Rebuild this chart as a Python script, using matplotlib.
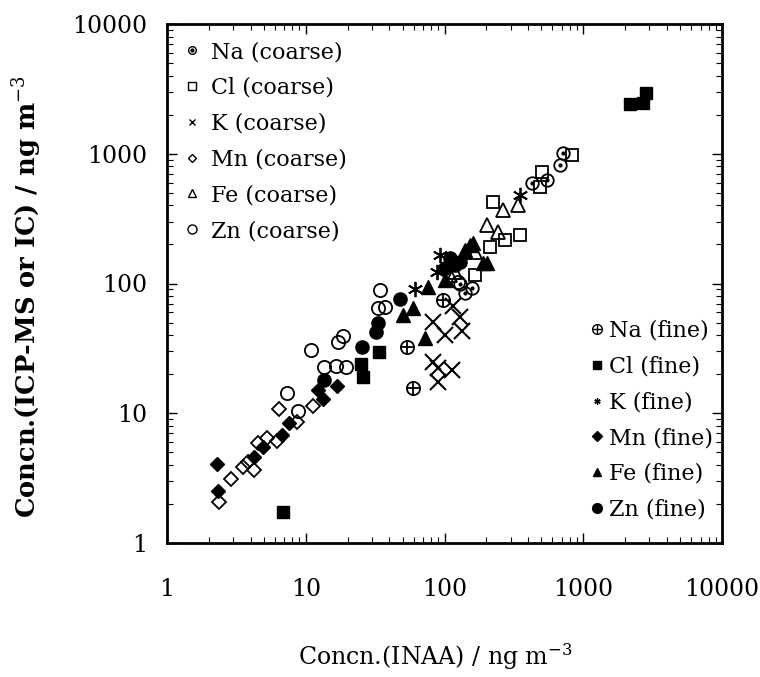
import numpy as np
import matplotlib
matplotlib.use('Agg')
import matplotlib.pyplot as plt
from matplotlib.lines import Line2D

plt.rcParams['font.family'] = 'DejaVu Serif'
plt.rcParams['mathtext.fontset'] = 'dejavuserif'

# ---- data (INAA vs ICP-MS/IC), ng m-3 ----
na_c_x = [718, 680, 425, 545, 141, 157, 130]
na_c_y = [1008, 819, 592, 628, 84, 92, 100]
cl_c_x = [225, 350, 273, 213, 502, 488, 826, 166]
cl_c_y = [427, 236, 216, 192, 727, 557, 977, 116]
k_c_x = [116, 83, 101, 133, 129, 83, 90, 113, 90]
k_c_y = [67.1, 50.8, 40.1, 43.3, 55.5, 25.0, 22.2, 21.6, 17.5]
mn_c_x = [2.38, 2.88, 3.51, 3.85, 4.24, 4.55, 5.28, 6.18, 6.38, 8.69, 11.2]
mn_c_y = [2.06, 3.11, 3.87, 4.19, 3.65, 5.87, 6.41, 6.11, 10.7, 8.51, 11.4]
fe_c_x = [110, 141, 166, 201, 244, 265, 340, 119]
fe_c_y = [116, 176, 176, 282, 251, 368, 403, 123]
zn_c_x = [7.29, 8.75, 10.9, 13.6, 16.4, 19.4, 17.0, 18.7, 33.3, 37.3, 34.3, 126]
zn_c_y = [14.4, 10.4, 30.7, 22.9, 23.1, 22.9, 35.6, 39.4, 64.4, 65.6, 89.1, 103]

na_f_x = [53.9, 59.0, 97.0]
na_f_y = [32.6, 15.6, 74.6]
cl_f_x = [6.82, 25.0, 26.0, 33.7, 2173, 2710, 2833]
cl_f_y = [1.73, 23.9, 18.9, 29.8, 2418, 2449, 2956]
k_f_x = [61.3, 87.9, 92.8, 350]
k_f_y = [90.2, 123, 166, 481]
mn_f_x = [2.28, 2.34, 4.24, 4.9, 6.71, 7.62, 13.4, 16.7, 12.3]
mn_f_y = [4.06, 2.52, 4.58, 5.53, 6.8, 8.46, 12.8, 16.2, 15.1]
fe_f_x = [76.4, 59.6, 72.4, 100.8, 161, 190, 50.5, 140.6, 153, 201]
fe_f_y = [94.6, 64.4, 37.8, 106, 204, 143, 57.2, 181, 198, 143]
zn_f_x = [13.5, 25.6, 32.1, 33.3, 47.8, 101, 119, 110, 129]
zn_f_y = [18.0, 32.2, 42.5, 49.9, 75.5, 131, 139, 157, 146]

ticks = [1, 10, 100, 1000, 10000]
tick_labels = ['1', '10', '100', '1000', '10000']

fig = plt.figure(figsize=(7.6, 6.77), dpi=100)
ax = fig.add_axes([167/760, 1-543/677, 555/760, 519/677])

ew = 1.3
k = 'k'
# coarse (open)
ax.plot(na_c_x, na_c_y, 'o', ms=9, mfc='none', mec=k, mew=ew)
ax.plot(na_c_x, na_c_y, 'o', ms=3, mfc=k, mec=k, mew=0)
ax.plot(cl_c_x, cl_c_y, 's', ms=9, mfc='none', mec=k, mew=ew)
ax.plot(k_c_x, k_c_y, 'x', ms=11, mec=k, mew=1.5)
ax.plot(mn_c_x, mn_c_y, 'D', ms=6.8, mfc='none', mec=k, mew=ew)
ax.plot(fe_c_x, fe_c_y, '^', ms=9.5, mfc='none', mec=k, mew=ew)
ax.plot(zn_c_x, zn_c_y, 'o', ms=9.5, mfc='none', mec=k, mew=ew)
# fine (filled)
ax.plot(na_f_x, na_f_y, 'o', ms=9.5, mfc='none', mec=k, mew=ew)
ax.plot(na_f_x, na_f_y, '+', ms=9.5, mec=k, mew=ew)
ax.plot(cl_f_x, cl_f_y, 's', ms=9, mfc=k, mec=k)
ax.plot(k_f_x, k_f_y, marker=(6, 2, 0), ls='none', ms=11, mec=k, mew=1.3)
ax.plot(mn_f_x, mn_f_y, 'D', ms=6.8, mfc=k, mec=k)
ax.plot(fe_f_x, fe_f_y, '^', ms=9.5, mfc=k, mec=k)
ax.plot(zn_f_x, zn_f_y, 'o', ms=9.5, mfc=k, mec=k)

ax.set_xscale('log')
ax.set_yscale('log')
ax.set_xlim(1, 10000)
ax.set_ylim(1, 10000)
ax.set_xticks(ticks, tick_labels)
ax.set_yticks(ticks, tick_labels)
ax.tick_params(which='both', direction='in', top=True, right=True, labelsize=17)
ax.tick_params(which='major', length=7, width=1)
ax.tick_params(which='minor', length=4, width=0.8)
ax.tick_params(axis='x', pad=25)
ax.tick_params(axis='y', pad=14)
for s in ax.spines.values():
    s.set_linewidth(2)

ax.set_xlabel(r'Concn.(INAA) / ng m$^{-3}$', fontsize=17)
ax.xaxis.set_label_coords(0.483, -0.19)
ax.set_ylabel(r'Concn.(ICP-MS or IC) / ng m$^{-3}$', fontsize=18.5, fontweight='bold')
ax.yaxis.set_label_coords(-0.222, 0.475)

# legends
def h(m, ms, filled=False, mew=1.0):
    return Line2D([], [], ls='none', marker=m, ms=ms, mfc=k if filled else 'none', mec=k, mew=mew)

coarse_h = [(h('o', 5.5), h('o', 2, True)), h('s', 5.5), h('x', 4.5),
            h('D', 4.2), h('^', 5.5), h('o', 6.5)]
coarse_l = ['Na (coarse)', 'Cl (coarse)', 'K (coarse)', 'Mn (coarse)', 'Fe (coarse)', 'Zn (coarse)']
fine_h = [(h('o', 7), h('+', 7)), h('s', 6, True), h((6, 2, 0), 4.5),
          h('D', 5, True), h('^', 6, True), h('o', 7, True)]
fine_l = ['Na (fine)', 'Cl (fine)', 'K (fine)', 'Mn (fine)', 'Fe (fine)', 'Zn (fine)']

leg1 = ax.legend(coarse_h, coarse_l, loc='upper left', bbox_to_anchor=(0.029, 0.967),
                 frameon=False, fontsize=16, handlelength=0.8, handletextpad=0.45,
                 labelspacing=0.62, borderpad=0, borderaxespad=0)
ax.add_artist(leg1)
ax.legend(fine_h, fine_l, loc='upper left', bbox_to_anchor=(0.7586, 0.43),
          frameon=False, fontsize=16, handlelength=0.8, handletextpad=0.15,
          labelspacing=0.62, borderpad=0, borderaxespad=0)

fig.savefig('out.png', dpi=100)
